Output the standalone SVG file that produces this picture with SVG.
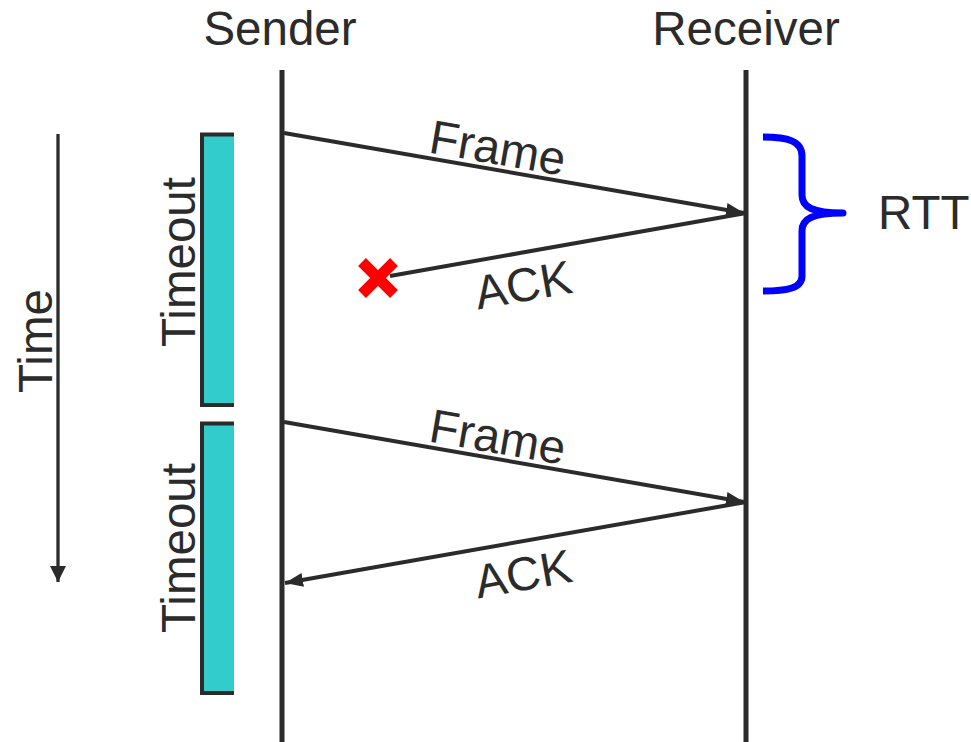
<svg xmlns="http://www.w3.org/2000/svg" width="971" height="742" viewBox="0 0 971 742">
<style>
text{font-family:"Liberation Sans",Arial,sans-serif;font-size:47.5px;fill:#2b2b2b}
.life{stroke:#2b2b2b;stroke-width:5;fill:none}
.msg{stroke:#2b2b2b;stroke-width:4;fill:none}
.timer{fill:#33cccc;stroke:#2b2b2b;stroke-width:4}
</style>
<defs>
<marker id="ah" markerUnits="userSpaceOnUse" markerWidth="20" markerHeight="16" refX="18" refY="7" orient="auto">
<path d="M0,0 L18,7 L0,14 Z" fill="#2b2b2b"/>
</marker>
<marker id="ahs" markerUnits="userSpaceOnUse" markerWidth="18" markerHeight="18" refX="16" refY="8" orient="auto">
<path d="M0,0 L16,8 L0,16 Z" fill="#2b2b2b"/>
</marker>
</defs>
<rect width="971" height="742" fill="#ffffff"/>
<g id="sender">
<line class="life" x1="282" y1="70" x2="282" y2="742"/>
<text x="280" y="45" text-anchor="middle">Sender</text>
</g>
<g id="receiver">
<line class="life" x1="746" y1="70" x2="746" y2="742"/>
<text x="746" y="45" text-anchor="middle">Receiver</text>
</g>
<g id="time">
<line x1="58" y1="134" x2="58" y2="582" stroke="#2b2b2b" stroke-width="3.3" marker-end="url(#ahs)"/>
<text transform="translate(52,341) rotate(-90)" text-anchor="middle">Time</text>
</g>
<g id="timeout1">
<path class="timer" d="M234,134.5 H202 V405 H234"/>
<text transform="translate(195,262) rotate(-90)" text-anchor="middle">Timeout</text>
</g>
<g id="timeout2">
<path class="timer" d="M234,423.5 H202 V693 H234"/>
<text transform="translate(195,548) rotate(-90)" text-anchor="middle">Timeout</text>
</g>
<g id="rtt">
<path d="M763,137 C788,137 802,141 802,156 L802,195 C802,207 812,213 843,213 C812,213 802,219 802,231 L802,276 C802,288 788,291 763,291" fill="none" stroke="#0000ff" stroke-width="7" stroke-linejoin="round"/>
<text x="878" y="229">RTT</text>
</g>
<g id="lost">
<line x1="362" y1="262" x2="394" y2="294" stroke="#ff0000" stroke-width="11"/>
<line x1="394" y1="262" x2="362" y2="294" stroke="#ff0000" stroke-width="11"/>
</g>
<g id="connectors">
<line class="msg" x1="284" y1="133" x2="744" y2="213" marker-end="url(#ah)"/>
<line class="msg" x1="746" y1="213" x2="390" y2="276"/>
<line class="msg" x1="284" y1="422" x2="744" y2="502" marker-end="url(#ah)"/>
<line class="msg" x1="746" y1="502" x2="285" y2="583" marker-end="url(#ah)"/>
</g>
<g id="labels">
<text transform="translate(495,164) rotate(9.8)" text-anchor="middle">Frame</text>
<text transform="translate(526,301) rotate(-10)" text-anchor="middle">ACK</text>
<text transform="translate(495,453) rotate(9.8)" text-anchor="middle">Frame</text>
<text transform="translate(526,590) rotate(-10)" text-anchor="middle">ACK</text>
</g>
</svg>
